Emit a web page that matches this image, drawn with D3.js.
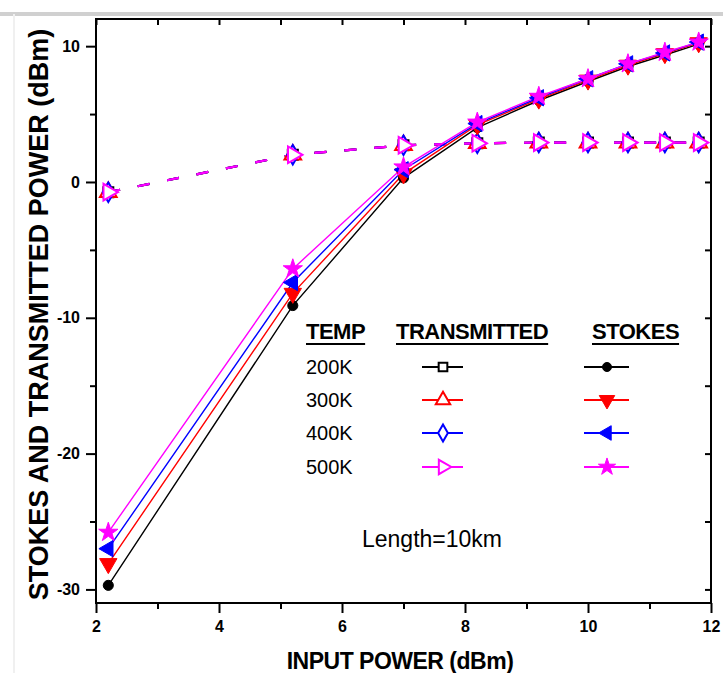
<!DOCTYPE html>
<html>
<head>
<meta charset="utf-8">
<script src="https://cdn.jsdelivr.net/npm/d3@7"></script>
<style>
  body { margin: 0; background: #fff; }
  svg { display: block; }
  text { font-family: "Liberation Sans", Arial, Helvetica, sans-serif; fill: #000; }
</style>
</head>
<body>
<svg id="chart" width="723" height="673"></svg>
<script>
// Input power (dBm) at which every curve was measured
const inputPower = [2.2, 5.2, 7.0, 8.2, 9.2, 10.0, 10.65, 11.25, 11.8];

// Temperatures, one colour per temperature
const temps = ["200K", "300K", "400K", "500K"];
const colors = ["#000000", "#ff0000", "#0000ff", "#ff00ff"];

// Stokes power (dBm)
const stokes200K = [-29.7, -9.1, 0.3, 4.0, 6.0, 7.4, 8.5, 9.35, 10.15];
const stokes300K = [-28.1, -8.2, 0.6, 4.2, 6.1, 7.5, 8.6, 9.45, 10.25];
const stokes400K = [-27.0, -7.4, 0.9, 4.3, 6.2, 7.6, 8.7, 9.5, 10.3];
const stokes500K = [-25.8, -6.4, 1.1, 4.4, 6.3, 7.6, 8.7, 9.55, 10.3];

// Transmitted power (dBm)
const trans200K = [-0.75, 2.0, 2.7, 2.85, 2.9, 2.9, 2.9, 2.9, 2.9];
const trans300K = [-0.75, 2.0, 2.7, 2.85, 2.9, 2.9, 2.9, 2.9, 2.9];
const trans400K = [-0.75, 2.0, 2.7, 2.85, 2.9, 2.9, 2.9, 2.9, 2.9];
const trans500K = [-0.75, 2.0, 2.7, 2.85, 2.9, 2.9, 2.9, 2.9, 2.9];

// Axis ticks
const xMajorTicks = [2, 4, 6, 8, 10, 12];
const xMinorTicks = [3, 5, 7, 9, 11];
const yMajorTicks = [10, 0, -10, -20, -30];
const yMinorTicks = [5, -5, -15, -25];

const stokesSeries = [stokes200K, stokes300K, stokes400K, stokes500K];
const transSeries = [trans200K, trans300K, trans400K, trans500K];

// Marker shapes: [symbol type, rotation]
const transShapes = [[d3.symbolSquare, 0], [d3.symbolTriangle, 0], [d3.symbolDiamond, 0], [d3.symbolTriangle, 90]];
const stokesShapes = [[d3.symbolCircle, 0], [d3.symbolTriangle, 180], [d3.symbolTriangle, -90], [d3.symbolStar, 0]];
const transSizes = [100, 120, 110, 120];
const stokesSizes = [80, 130, 115, 115];

const width = 723, height = 673;
const margin = { top: 19, right: 12, bottom: 70, left: 96 };
const svg = d3.select("#chart");

// Faint frame lines of the page
svg.append("line").attr("x1", 0).attr("x2", width).attr("y1", 14).attr("y2", 14)
  .attr("stroke", "#d0d0d0").attr("stroke-width", 4);
svg.append("line").attr("x1", 14).attr("x2", 14).attr("y1", 14).attr("y2", height)
  .attr("stroke", "#f0f0f0").attr("stroke-width", 2);

const x = d3.scaleLinear().domain([2, 12]).range([margin.left, width - margin.right]);
const y = d3.scaleLinear().domain([-31, 12]).range([height - margin.bottom, margin.top]);

const x0 = margin.left, x1 = width - margin.right;
const y0 = height - margin.bottom, y1 = margin.top;

const plain = d => String(d);

// Axes
function styleAxis(g) {
  g.select(".domain").remove();
  g.selectAll(".tick line").attr("stroke", "#000").attr("stroke-width", 2);
  g.selectAll(".tick text").style("font-size", "16px").style("font-weight", "bold");
}

svg.append("g").attr("transform", `translate(0,${y0})`)
  .call(d3.axisBottom(x).tickValues(xMajorTicks).tickSize(10).tickPadding(8).tickFormat(plain))
  .call(styleAxis);
svg.append("g").attr("transform", `translate(0,${y0})`)
  .call(d3.axisBottom(x).tickValues(xMinorTicks).tickSize(6).tickFormat(""))
  .call(styleAxis);
svg.append("g").attr("transform", `translate(0,${y1})`)
  .call(d3.axisTop(x).tickValues(xMajorTicks.concat(xMinorTicks)).tickSize(-6).tickFormat(""))
  .call(styleAxis);

svg.append("g").attr("transform", `translate(${x0},0)`)
  .call(d3.axisLeft(y).tickValues(yMajorTicks).tickSize(10).tickPadding(6).tickFormat(plain))
  .call(styleAxis);
svg.append("g").attr("transform", `translate(${x0},0)`)
  .call(d3.axisLeft(y).tickValues(yMinorTicks).tickSize(6).tickFormat(""))
  .call(styleAxis);
svg.append("g").attr("transform", `translate(${x1},0)`)
  .call(d3.axisRight(y).tickValues(yMajorTicks.concat(yMinorTicks)).tickSize(-6).tickFormat(""))
  .call(styleAxis);

// Plot frame
svg.append("rect").attr("x", x0).attr("y", y1).attr("width", x1 - x0).attr("height", y0 - y1)
  .attr("fill", "none").attr("stroke", "#000").attr("stroke-width", 2);

const line = d3.line().x(d => x(d[0])).y(d => y(d[1]));
const sym = (shape, size) => d3.symbol().type(shape[0]).size(size)();

// Transmitted curves (dashed, open markers)
transSeries.forEach((vals, i) => {
  const pts = inputPower.map((p, k) => [p, vals[k]]);
  svg.append("path").datum(pts).attr("d", line)
    .attr("fill", "none").attr("stroke", colors[i]).attr("stroke-width", 2.2)
    .attr("stroke-dasharray", "12,18");
});

// Stokes curves (solid, filled markers)
stokesSeries.forEach((vals, i) => {
  const pts = inputPower.map((p, k) => [p, vals[k]]);
  svg.append("path").datum(pts).attr("d", line)
    .attr("fill", "none").attr("stroke", colors[i]).attr("stroke-width", 1.4);
});

transSeries.forEach((vals, i) => {
  svg.append("g").selectAll("path").data(inputPower.map((p, k) => [p, vals[k]])).join("path")
    .attr("d", sym(transShapes[i], transSizes[i]))
    .attr("transform", d => `translate(${x(d[0])},${y(d[1])}) rotate(${transShapes[i][1]})`)
    .attr("fill", "#fff").attr("stroke", colors[i]).attr("stroke-width", 2);
});

stokesSeries.forEach((vals, i) => {
  svg.append("g").selectAll("path").data(inputPower.map((p, k) => [p, vals[k]])).join("path")
    .attr("d", sym(stokesShapes[i], stokesSizes[i]))
    .attr("transform", d => `translate(${x(d[0])},${y(d[1])}) rotate(${stokesShapes[i][1]})`)
    .attr("fill", colors[i]).attr("stroke", colors[i]).attr("stroke-width", 1);
});

// Axis titles
svg.append("text")
  .attr("transform", `translate(39,${(y0 + 26) / 2}) rotate(-90)`)
  .attr("text-anchor", "middle").attr("dominant-baseline", "central")
  .style("font-size", "27px").style("font-weight", "bold")
  .text("STOKES AND TRANSMITTED POWER (dBm)");

svg.append("text")
  .attr("x", 400).attr("y", 669)
  .attr("text-anchor", "middle")
  .style("font-size", "23px").style("font-weight", "bold").style("letter-spacing", "-0.5px")
  .text("INPUT POWER (dBm)");

// Annotation
svg.append("text").attr("x", 362).attr("y", 547)
  .style("font-size", "23px")
  .text("Length=10km");

// Legend table
const legend = svg.append("g");
const headers = [["TEMP", 306], ["TRANSMITTED", 396], ["STOKES", 592]];
headers.forEach(([label, hx]) => {
  const t = legend.append("text").attr("x", hx).attr("y", 339)
    .style("font-size", "22px").style("font-weight", "bold").style("letter-spacing", "-0.5px")
    .text(label);
  const w = t.node().getComputedTextLength();
  legend.append("line").attr("x1", hx).attr("x2", hx + w).attr("y1", 344).attr("y2", 344)
    .attr("stroke", "#000").attr("stroke-width", 2);
});

const rowY = [367, 400, 433, 467];
temps.forEach((label, i) => {
  const ry = rowY[i];
  legend.append("text").attr("x", 306).attr("y", ry + 7)
    .style("font-size", "20px").text(label);

  legend.append("line").attr("x1", 422).attr("x2", 463).attr("y1", ry).attr("y2", ry)
    .attr("stroke", colors[i]).attr("stroke-width", 2);
  legend.append("path").attr("d", sym(transShapes[i], transSizes[i] * 0.75))
    .attr("transform", `translate(443,${ry}) rotate(${transShapes[i][1]})`)
    .attr("fill", "#fff").attr("stroke", colors[i]).attr("stroke-width", 2);

  legend.append("line").attr("x1", 584).attr("x2", 629).attr("y1", ry).attr("y2", ry)
    .attr("stroke", colors[i]).attr("stroke-width", 2);
  legend.append("path").attr("d", sym(stokesShapes[i], stokesSizes[i] * 0.8))
    .attr("transform", `translate(607,${ry}) rotate(${stokesShapes[i][1]})`)
    .attr("fill", colors[i]).attr("stroke", colors[i]).attr("stroke-width", 1);
});
</script>
</body>
</html>
